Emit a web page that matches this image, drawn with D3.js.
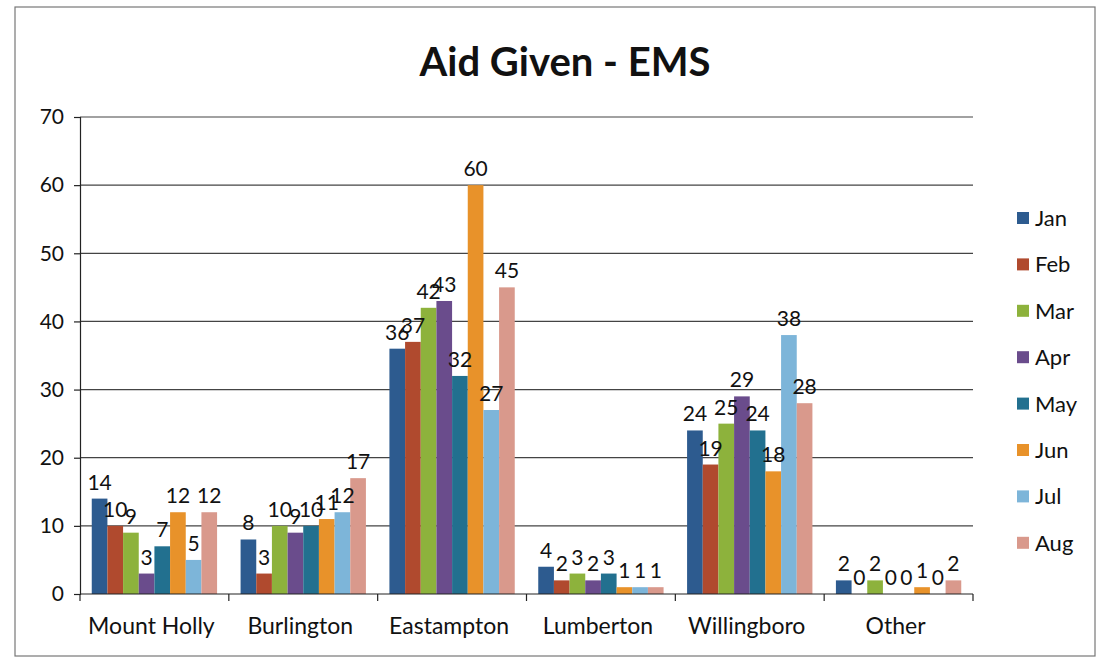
<!DOCTYPE html>
<html>
<head>
<meta charset="utf-8">
<script src="https://cdn.jsdelivr.net/npm/d3@7"></script>
<style>
  body { margin: 0; background: #fff; }
  text { font-family: Lato, "Open Sans", sans-serif; fill: #111; }
</style>
</head>
<body>
<script>
// data
const towns = ['Mount Holly', 'Burlington', 'Eastampton', 'Lumberton', 'Willingboro', 'Other'];
const months = ['Jan', 'Feb', 'Mar', 'Apr', 'May', 'Jun', 'Jul', 'Aug'];
const mountHolly  = [14, 10, 9, 3, 7, 12, 5, 12];
const burlington  = [8, 3, 10, 9, 10, 11, 12, 17];
const eastampton  = [36, 37, 42, 43, 32, 60, 27, 45];
const lumberton   = [4, 2, 3, 2, 3, 1, 1, 1];
const willingboro = [24, 19, 25, 29, 24, 18, 38, 28];
const other       = [2, 0, 2, 0, 0, 1, 0, 2];
const yTicks = [0, 10, 20, 30, 40, 50, 60, 70];

const values = [mountHolly, burlington, eastampton, lumberton, willingboro, other];
const colors = ['#2d5b8f', '#b04a2e', '#8db23c', '#6a4c8c', '#22708f', '#e8922a', '#7db5d9', '#d9998c'];

let width = 1099, height = 661;

let svg = d3.select('body').append('svg')
    .attr('width', width)
    .attr('height', height);

// border of the chart area
svg.append('rect')
    .attr('x', 15).attr('y', 7)
    .attr('width', 1080).attr('height', 649)
    .attr('fill', 'none')
    .attr('stroke', '#777')
    .attr('stroke-width', 1.2);

//scales
let x0 = d3.scaleBand()
    .domain(towns)
    .range([80, 973]);

let x1 = d3.scaleBand()
    .domain(months)
    .range([0, x0.bandwidth()])
    .paddingOuter(0.75);

let y = d3.scaleLinear()
    .domain([0, 70])
    .range([594, 117]);

let colorScale = d3.scaleOrdinal(months, colors);

// title
svg.append('text')
    .attr('x', 565)
    .attr('y', 76)
    .attr('text-anchor', 'middle')
    .attr('font-size', '40px')
    .attr('font-weight', 'bold')
    .text('Aid Given - EMS');

// gridlines
svg.append('g')
    .selectAll('line')
    .data(yTicks.filter(t => t > 0))
    .enter().append('line')
    .attr('x1', 80).attr('x2', 973)
    .attr('y1', d => y(d)).attr('y2', d => y(d))
    .attr('stroke', '#444')
    .attr('stroke-width', 1.2);

// y axis
let yAxis = svg.append('g')
    .attr('transform', 'translate(80,0)')
    .call(d3.axisLeft(y).tickValues(yTicks).tickSize(6).tickPadding(10));
yAxis.selectAll('text').attr('font-size', '21px').style('font-family', 'Lato, sans-serif').attr('fill', '#111');
yAxis.selectAll('line, path').attr('stroke', '#222').attr('stroke-width', 1.2);

// bars
let groups = svg.selectAll('g.town')
    .data(towns)
    .enter().append('g')
    .attr('class', 'town')
    .attr('transform', d => `translate(${x0(d)},0)`);

let bars = groups.selectAll('rect')
    .data((d, i) => months.map((m, j) => ({month: m, value: values[i][j]})))
    .enter().append('rect')
    .attr('x', d => x1(d.month))
    .attr('y', d => y(d.value))
    .attr('width', x1.bandwidth())
    .attr('height', d => y(0) - y(d.value))
    .attr('fill', d => colorScale(d.month));

let labels = groups.selectAll('text')
    .data((d, i) => months.map((m, j) => ({month: m, value: values[i][j]})))
    .enter().append('text')
    .attr('x', d => x1(d.month) + x1.bandwidth() / 2)
    .attr('y', d => y(d.value) - 9)
    .attr('text-anchor', 'middle')
    .attr('font-size', '21px')
    .text(d => d.value);

// x axis
let xAxis = svg.append('g')
    .attr('transform', `translate(0,${y(0)})`);
xAxis.append('line')
    .attr('x1', 80).attr('x2', 973)
    .attr('stroke', '#222').attr('stroke-width', 1.2);
xAxis.selectAll('line.tick')
    .data(towns.map(t => x0(t)).concat([x0.range()[1]]))
    .enter().append('line')
    .attr('class', 'tick')
    .attr('x1', d => d).attr('x2', d => d)
    .attr('y1', 0).attr('y2', 7)
    .attr('stroke', '#222').attr('stroke-width', 1.2);
xAxis.selectAll('text')
    .data(towns)
    .enter().append('text')
    .attr('x', d => x0(d) + x0.bandwidth() / 2 - 3)
    .attr('y', 40)
    .attr('text-anchor', 'middle')
    .attr('font-size', '23px')
    .text(d => d);

// legend
let legend = svg.selectAll('g.legend')
    .data(months)
    .enter().append('g')
    .attr('class', 'legend')
    .attr('transform', (d, i) => `translate(1017,${218 + i * 46.4})`);

legend.append('rect')
    .attr('x', 0).attr('y', -6)
    .attr('width', 12).attr('height', 12)
    .attr('fill', d => colorScale(d));

legend.append('text')
    .attr('x', 18)
    .attr('y', 8)
    .attr('font-size', '22px')
    .text(d => d);
</script>
</body>
</html>
